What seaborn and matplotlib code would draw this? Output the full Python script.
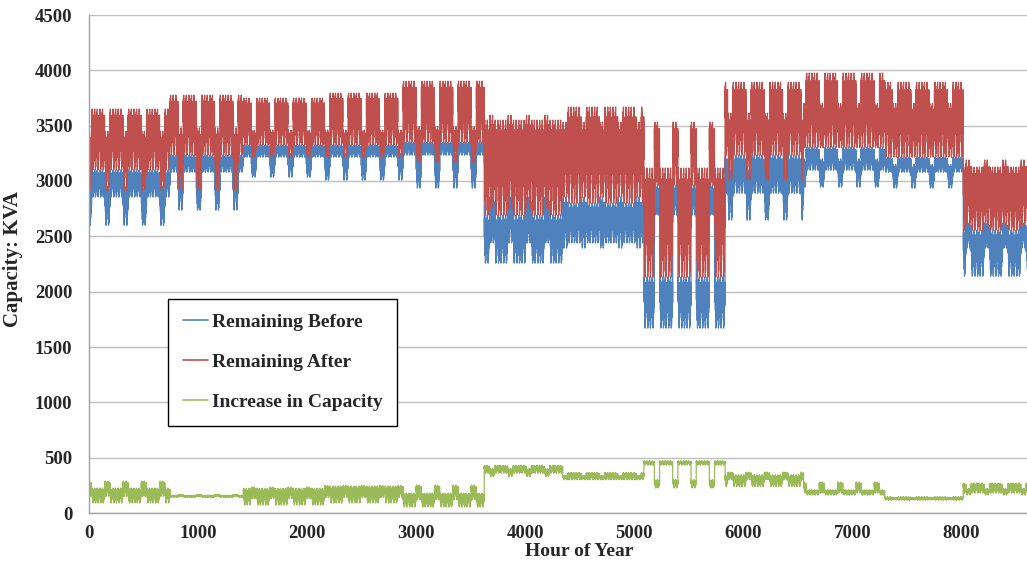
import numpy as np
import pandas as pd
import matplotlib
matplotlib.use("Agg")
import matplotlib.pyplot as plt
import seaborn as sns

# ---- data (monthly blocks, kVA) ----
month_start = [0, 744, 1416, 2160, 2880, 3624, 4344, 5088, 5832, 6552, 7296, 8016, 8760]

# Remaining Before (blue): weekday low/high, weekend low/high per month
before_wd_lo = [2855, 3080, 3216, 3216, 3234, 2258, 2440, 1671, 2890, 3098, 3080, 2140]
before_wd_hi = [3100, 3234, 3324, 3324, 3351, 2692, 2800, 2132, 3234, 3306, 3216, 2556]
before_we_lo = [2600, 2737, 3035, 3008, 2936, 2440, 2394, 2692, 2647, 2945, 2936, 2394]
before_we_hi = [2950, 3100, 3250, 3250, 3250, 2855, 2855, 2963, 3100, 3200, 3150, 2620]

# Remaining After (red)
after_wd_lo = [3100, 3234, 3324, 3324, 3351, 2692, 2800, 2132, 3234, 3306, 3216, 2556]
after_wd_hi = [3650, 3776, 3749, 3794, 3902, 3550, 3668, 3117, 3893, 3975, 3893, 3126]
after_we_lo = [2918, 2918, 3216, 3216, 3170, 2750, 2855, 2963, 3008, 3300, 3216, 2600]
after_we_hi = [3450, 3480, 3460, 3460, 3490, 3595, 3532, 3532, 3613, 3700, 3700, 3190]

# Increase in Capacity (green)
incr_wd_lo = [90, 140, 72, 90, 54, 360, 300, 434, 240, 163, 117, 180]
incr_wd_hi = [226, 160, 223, 244, 180, 430, 365, 470, 345, 208, 145, 270]
incr_we_lo = [150, 150, 130, 140, 120, 330, 300, 226, 300, 180, 120, 163]
incr_we_hi = [289, 165, 235, 250, 253, 400, 340, 300, 370, 280, 140, 220]

# within-day hourly shape (0 = daily low, 1 = daily high); weekend days (year starts on Sunday)
daily_shape = [0.9, 0.55, 0.95, 0.5, 1.0, 0.6, 0.9, 0.35, 0.75, 0.15, 0.55, 0.0,
               0.45, 0.05, 0.5, 0.2, 0.65, 0.3, 0.75, 0.4, 0.85, 0.45, 0.9, 0.5]
weekend_days = [0, 6]

series_names = ["Remaining Before", "Remaining After", "Increase in Capacity"]
series_colors = ["#4F81BD", "#C0504D", "#9BBB59"]

y_ticks = [0, 500, 1000, 1500, 2000, 2500, 3000, 3500, 4000, 4500]
x_ticks = [0, 1000, 2000, 3000, 4000, 5000, 6000, 7000, 8000]


def build(wd_lo, wd_hi, we_lo, we_hi):
    vals = []
    for m in range(12):
        for h in range(month_start[m], month_start[m + 1]):
            s = daily_shape[h % 24]
            if (h // 24) % 7 in weekend_days:
                lo, hi = we_lo[m], we_hi[m]
            else:
                lo, hi = wd_lo[m], wd_hi[m]
            vals.append(lo + (hi - lo) * s)
    return vals


hours = list(range(8760))
frames = []
for name, parts in zip(series_names,
                       [(before_wd_lo, before_wd_hi, before_we_lo, before_we_hi),
                        (after_wd_lo, after_wd_hi, after_we_lo, after_we_hi),
                        (incr_wd_lo, incr_wd_hi, incr_we_lo, incr_we_hi)]):
    frames.append(pd.DataFrame({"hour": hours, "value": build(*parts), "series": name}))
df = pd.concat(frames, ignore_index=True)

sns.set_style("white")
plt.rcParams["font.family"] = ["Liberation Serif", "DejaVu Serif"]
plt.rcParams["font.weight"] = "bold"
plt.rcParams["path.simplify"] = False
plt.rcParams["agg.path.chunksize"] = 0

fig = plt.figure(figsize=(10.27, 5.61), dpi=100)
ax = fig.add_axes([89 / 1027, 48 / 561, 938 / 1027, 498 / 561])

sns.lineplot(data=df, x="hour", y="value", hue="series", hue_order=series_names,
             palette=series_colors, estimator=None, errorbar=None,
             linewidth=0.9, ax=ax, legend=True)

ax.set_xlim(0, 8600)
ax.set_ylim(0, 4500)
ax.set_yticks(y_ticks)
ax.set_xticks(x_ticks)
ax.set_yticklabels([str(v) for v in y_ticks], fontsize=13.5, fontweight="bold")
ax.set_xticklabels([str(v) for v in x_ticks], fontsize=13.5, fontweight="bold")
ax.yaxis.grid(True, color="#BFBFBF", linewidth=1)
ax.xaxis.grid(False)
ax.set_axisbelow(True)
for side in ["top", "right"]:
    ax.spines[side].set_visible(False)
for side in ["left", "bottom"]:
    ax.spines[side].set_color("#A0A0A0")
    ax.spines[side].set_linewidth(1)
ax.tick_params(axis="both", direction="out", length=5, color="#A0A0A0", width=1)
ax.tick_params(axis="y", pad=7)
ax.tick_params(axis="x", pad=4)

ax.set_xlabel("Hour of Year", fontsize=14, fontweight="bold")
ax.set_ylabel("Capacity: KVA", fontsize=15, fontweight="bold")
ax.xaxis.set_label_coords(0.523, -0.06)
ax.yaxis.set_label_coords(-0.07, 0.51)

handles, labels = ax.get_legend_handles_labels()
leg = ax.legend(handles, labels, loc="upper left",
                bbox_to_anchor=(168 / 1027, 1 - 299 / 561), bbox_transform=fig.transFigure,
                frameon=True, fancybox=False, framealpha=1, edgecolor="black",
                prop={"family": "Liberation Serif", "weight": "bold", "size": 14},
                labelspacing=1.15, handlelength=1.3, handletextpad=0.2, borderpad=0.75,
                borderaxespad=0)
leg.get_frame().set_linewidth(1)
for lh in leg.get_lines():
    lh.set_linewidth(1.2)

fig.savefig("out.png", dpi=100)
